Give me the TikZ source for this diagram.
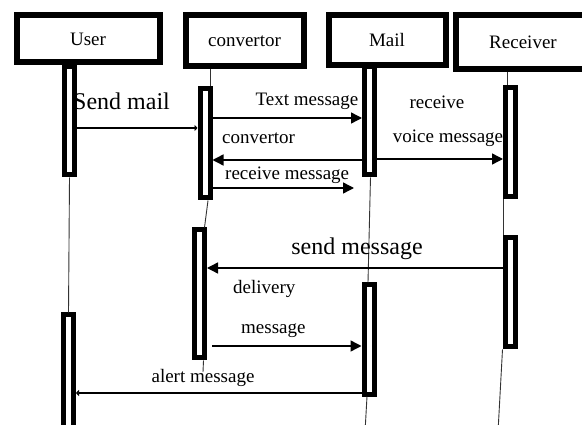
\documentclass[tikz,border=0pt]{standalone}
\usepackage{fontspec}
\setmainfont{Liberation Serif}
\usetikzlibrary{arrows.meta}
\begin{document}
\begin{tikzpicture}[x=1pt,y=-1pt,
  head/.style={draw, line width=6pt, fill=white, inner sep=0pt,
    font=\fontsize{19}{22}\selectfont},
  actbar/.style={draw, line width=5pt, fill=white, inner sep=0pt, minimum width=10pt},
  life/.style={line width=0.9pt, black!80},
  msg/.style={line width=1.4pt},
  tip/.style={-{Triangle[length=11pt,width=11pt]}},
  smalltip/.style={-{Triangle[length=3pt,width=6pt]}},
  lbl/.style={inner sep=0pt, font=\fontsize{19}{22}\selectfont},
  biglbl/.style={inner sep=0pt, font=\fontsize{24}{28}\selectfont}]
\useasboundingbox (0,0) rectangle (582,425);

% free ends of lifelines
\coordinate (mailend) at (365,432);
\coordinate (recvend) at (498,432);
\coordinate (convstub) at (203,372);

% object headers
\node[head, minimum width=143pt, minimum height=47pt] (user) at (88,39) {User};
\node[head, minimum width=118pt, minimum height=51pt] (conv) at (244.5,41) {convertor};
\node[head, minimum width=117pt, minimum height=50pt] (mail) at (387,40.5) {Mail};
\node[head, minimum width=135pt, minimum height=54pt] (recv) at (523,42.5) {Receiver};

% activation bars
\node[actbar, minimum height=108pt] (ub1) at (69.5,121) {};
\node[actbar, minimum height=125pt] (ub2) at (68.5,377.5) {};
\node[actbar, minimum height=109pt] (cb1) at (205,143.5) {};
\node[actbar, minimum height=128pt] (cb2) at (199.5,294) {};
\node[actbar, minimum height=108pt] (mb1) at (369.5,121) {};
\node[actbar, minimum height=109pt] (mb2) at (369,339.5) {};
\node[actbar, minimum height=109pt] (rb1) at (510.5,142.5) {};
\node[actbar, minimum height=109pt] (rb2) at (510.5,292.5) {};

% lifeline segments
\draw[life] ([xshift=5pt]cb1.north |- conv.south) -- ([xshift=5pt]cb1.north);
\draw[life] (ub1.south) -- (ub2.north);
\draw[life] ([xshift=3pt]cb1.south) -- ([xshift=5pt]cb2.north);
\draw[life] ([xshift=4pt]cb2.south) -- (convstub);
\draw[life] ([xshift=1pt]mb1.south) -- ([xshift=-1pt]mb2.north);
\draw[life] ([xshift=-2pt]mb2.south) -- (mailend);
\draw[life] ([xshift=-3.5pt]rb1.north |- recv.south) -- ([xshift=-3.5pt]rb1.north);
\draw[life] ([xshift=-7pt]rb1.south) -- ([xshift=-7pt]rb2.north);
\draw[life] ([xshift=-8pt]rb2.south) -- (recvend);

% messages
\coordinate (rmend) at (354,188);
\draw[msg, smalltip] (ub1.east |- 0,128) -- (cb1.west |- 0,128);
\draw[msg, tip] (cb1.east |- 0,118) -- (mb1.west |- 0,118);
\draw[msg, tip] (mb1.west |- 0,160) -- (cb1.east |- 0,160);
\draw[msg, tip] (cb1.east |- 0,188) -- (rmend);
\draw[msg, tip] (mb1.east |- 0,159) -- (rb1.west |- 0,159);
\draw[msg, tip] (rb2.west |- 0,268) -- (cb2.east |- 0,268);
\draw[msg, tip] ([xshift=5pt]cb2.east |- 0,346) -- (mb2.west |- 0,346);
\draw[msg, smalltip] (mb2.west |- 0,393) -- (ub2.east |- 0,393);

% message labels
\node[biglbl, anchor=west] (l1) at (73,101) {Send mail};
\node[lbl] (l2) at (307,101) {Text message};
\node[lbl, anchor=west] (l3) at (222,138) {convertor};
\node[lbl, anchor=west] (l4) at (225,175) {receive message};
\node[lbl] (l5) at (437,102) {receive};
\node[lbl] (l6) at (448,138) {voice message};
\node[biglbl] (l7) at (357,249) {send message};
\node[lbl, anchor=west] (l8) at (233,289) {delivery};
\node[lbl, anchor=west] (l9) at (241,331) {message};
\node[lbl] (l10) at (203,378) {alert message};
\end{tikzpicture}
\end{document}
